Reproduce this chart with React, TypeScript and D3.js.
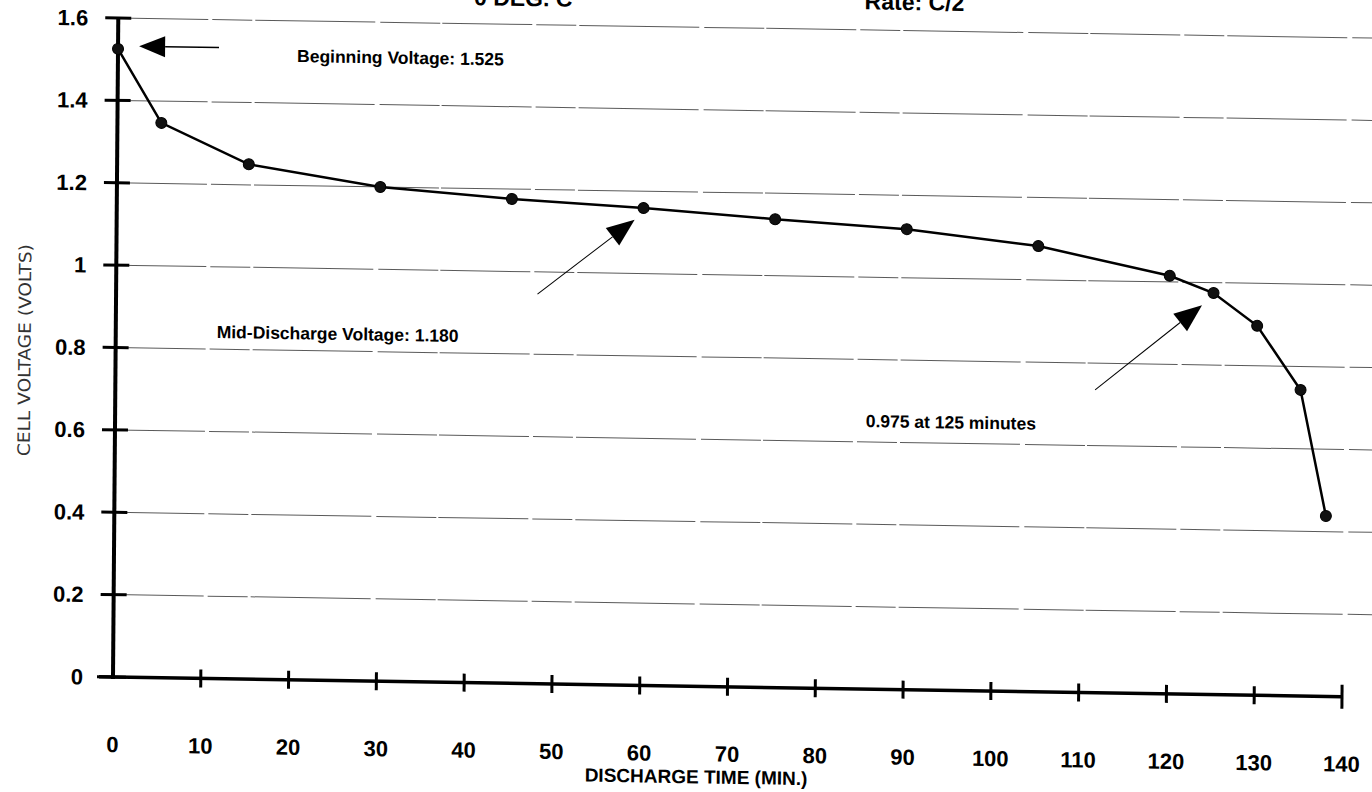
import React from "react";
import * as d3 from "d3";

const W = 1372;
const H = 792;

// data: discharge time (min) vs cell voltage (V)
const times = [0, 5, 15, 30, 45, 60, 75, 90, 105, 120, 125, 130, 135, 138];
const volts = [1.525, 1.347, 1.25, 1.2, 1.176, 1.159, 1.137, 1.118, 1.082, 1.015, 0.975, 0.897, 0.743, 0.438];

const xTicks = [0, 10, 20, 30, 40, 50, 60, 70, 80, 90, 100, 110, 120, 130, 140];
const yTicks = [0, 0.2, 0.4, 0.6, 0.8, 1, 1.2, 1.4, 1.6];

const titleLeft = "0 DEG. C";
const titleRight = "Rate: C/2";
const xTitle = "DISCHARGE TIME (MIN.)";
const yTitle = "CELL VOLTAGE (VOLTS)";

// annotations in data units
const annTexts = ["Beginning Voltage: 1.525", "Mid-Discharge Voltage: 1.180", "0.975 at 125 minutes"];
const annTextPos = [[20.4, 1.5], [11.5, 0.827], [85.5, 0.636]];
const annArrowFrom = [[11.5, 1.532], [48.0, 0.946], [111.6, 0.735]];
const annArrowTo = [[2.4, 1.532], [59.0, 1.13], [123.7, 0.945]];

export default function App() {
  const x = d3.scaleLinear().domain([0, 140]).range([113, 1342]);
  const y = d3.scaleLinear().domain([0, 1.6]).range([677, 18]);
  const ox = x(0);
  const oy = y(0);
  const shear = `translate(${ox},${oy}) matrix(1,0.016,-0.008,1,0,0) translate(${-ox},${-oy})`;

  const pts: [number, number][] = times.map((t, i) => [x(t), y(volts[i])]);
  const line = d3.line().curve(d3.curveLinear)(pts) || "";

  const bold = "'Liberation Sans', Arial, Helvetica, sans-serif";

  const arrows = annArrowFrom.map((f, i) => {
    const x1 = x(f[0]);
    const y1 = y(f[1]);
    const x2 = x(annArrowTo[i][0]);
    const y2 = y(annArrowTo[i][1]);
    const dx = x2 - x1;
    const dy = y2 - y1;
    const L = Math.hypot(dx, dy);
    const ux = dx / L;
    const uy = dy / L;
    const headLen = i === 0 ? 26 : 28;
    const headHalf = i === 0 ? 10.5 : 11;
    const bx = x2 - ux * headLen;
    const by = y2 - uy * headLen;
    const tri = `M${x2},${y2} L${bx - uy * headHalf},${by + ux * headHalf} L${bx + uy * headHalf},${by - ux * headHalf} Z`;
    return { x1, y1, bx, by, tri, first: i === 0 };
  });

  return (
    <svg width={W} height={H} style={{ display: "block", position: "absolute", left: 0, top: 0, background: "#fff" }}>
      <rect x={0} y={0} width={W} height={H} fill="#fff" />
      <g transform={shear}>
        {/* titles (cut at top) */}
        <text x={x(40.5)} y={y(1.645)} fontFamily={bold} fontWeight="bold" fontSize={23} fill="#000">{titleLeft}</text>
        <text x={x(85)} y={y(1.65)} fontFamily={bold} fontWeight="bold" fontSize={23} fill="#000">{titleRight}</text>

        {/* gridlines */}
        {yTicks.filter((v) => v > 0).map((v) => (
          <line key={"g" + v} x1={ox} x2={W + 40} y1={y(v)} y2={y(v)} stroke="#5a5a5a" strokeWidth={1} strokeDasharray="90 4 40 3 120 5 60 2" />
        ))}

        {/* y axis */}
        <line x1={ox} x2={ox} y1={oy + 2} y2={y(1.6)} stroke="#000" strokeWidth={4} />
        {yTicks.map((v) => (
          <line key={"yt" + v} x1={ox - (v === 0 ? 16 : 13)} x2={ox + 13} y1={y(v)} y2={y(v)} stroke="#000" strokeWidth={3} />
        ))}
        {yTicks.map((v) => (
          <text key={"yl" + v} x={ox - 30} y={y(v)} dy="0.36em" textAnchor="end" fontFamily={bold} fontWeight="bold" fontSize={22} fill="#000">
            {d3.format("")(v)}
          </text>
        ))}

        {/* x axis */}
        <line x1={ox - 14} x2={x(140)} y1={oy} y2={oy} stroke="#000" strokeWidth={3.5} />
        {xTicks.filter((t) => t > 0).map((t) => (
          <line key={"xt" + t} x1={x(t)} x2={x(t)} y1={oy - (t === 140 ? 12 : 9)} y2={oy + (t === 140 ? 12 : 9)} stroke="#000" strokeWidth={3} />
        ))}
        {xTicks.map((t) => (
          <text key={"xl" + t} x={x(t)} y={oy + 75} textAnchor="middle" fontFamily={bold} fontWeight="bold" fontSize={22} fill="#000">
            {t}
          </text>
        ))}
        <text x={x(66.5)} y={oy + 97} textAnchor="middle" fontFamily={bold} fontWeight="bold" fontSize={19} fill="#000">{xTitle}</text>

        {/* y title */}
        <text
          transform={`translate(22,${y(0.79)}) rotate(-90)`}
          textAnchor="middle"
          dy="0.35em"
          fontFamily="'Liberation Sans Narrow', 'DejaVu Sans Condensed', sans-serif"
          fontSize={17}
          fill="#333"
          textLength={212}
          lengthAdjust="spacingAndGlyphs"
        >
          {yTitle}
        </text>

        {/* data line */}
        <path d={line} fill="none" stroke="#000" strokeWidth={2.5} />
        {pts.map((p, i) => (
          <circle key={"p" + i} cx={p[0]} cy={p[1]} r={5.5} fill="#111" stroke="#000" strokeWidth={1} />
        ))}

        {/* annotations */}
        {arrows.map((a, i) => (
          <g key={"a" + i}>
            <line x1={a.x1} y1={a.y1} x2={a.bx} y2={a.by} stroke="#000" strokeWidth={a.first ? 1.5 : 1} />
            <path d={a.tri} fill="#000" />
          </g>
        ))}
        {annTexts.map((s, i) => (
          <text key={"t" + i} x={x(annTextPos[i][0])} y={y(annTextPos[i][1])} fontFamily={bold} fontWeight="bold" fontSize={17.5} fill="#000">
            {s}
          </text>
        ))}
      </g>
    </svg>
  );
}
